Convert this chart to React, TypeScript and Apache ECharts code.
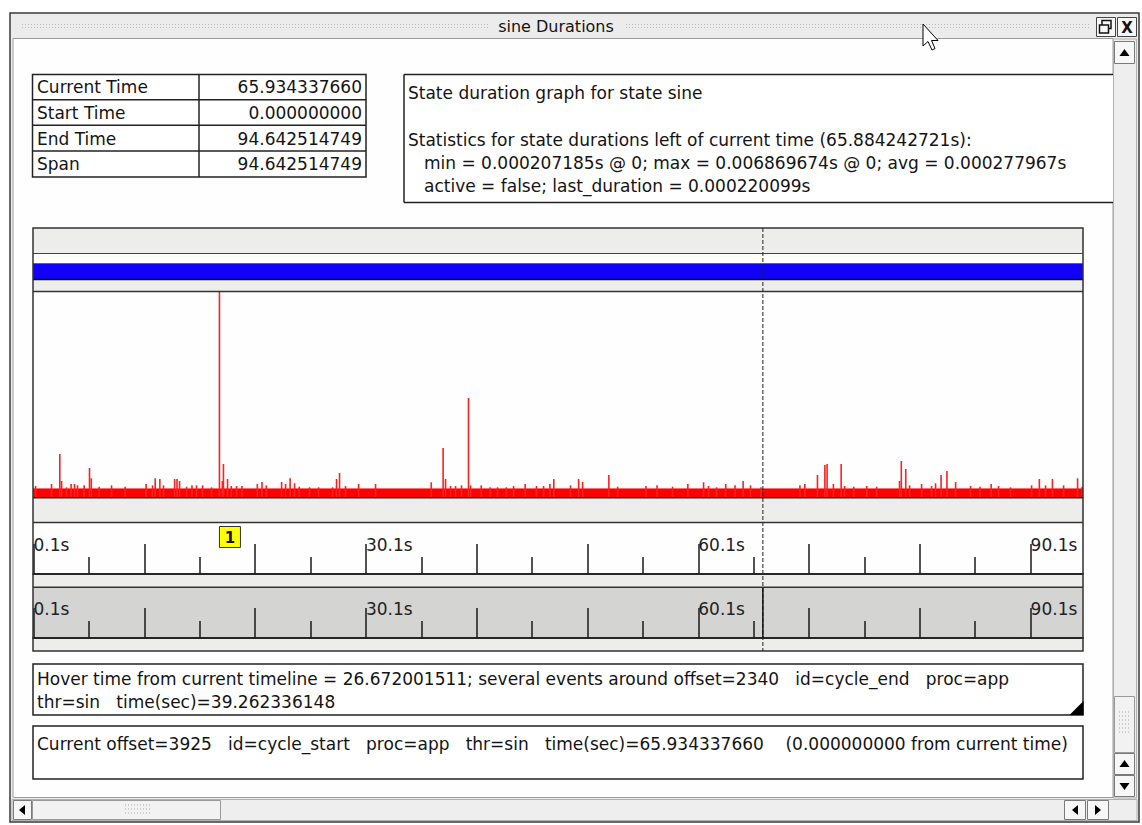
import React, { useEffect, useRef } from 'react';
import * as echarts from 'echarts';

// ---------- data ----------
const TIME_MIN = 0.05;
const TIME_MAX = 94.83;
const CURRENT_TIME = 65.93433766;
const BOOKMARK_TIME = 16.88;
const MAX_DURATION = 0.006869674;

const baselineTimes = [TIME_MIN, TIME_MAX];
const baselineDurations = [0.00028, 0.00028];

const spikeTimes = [
  0.28, 1.72, 2.47, 2.63, 3.08, 3.49, 3.8, 4.07, 4.67, 5.15, 5.31, 6.02, 7.14, 8.37,
  10.26, 10.84, 11.08, 11.5, 11.83, 12.83, 13.05, 13.28, 13.91, 14.4, 14.81, 15.36, 16.17,
  16.88, 17.14, 17.24, 17.61, 17.95, 18.42, 18.91, 20.3, 20.72, 21.11, 22.49, 22.85, 23.26,
  23.66, 24.08, 25.01, 25.83, 27.09, 27.45, 27.72, 28.26, 29.44, 30.97, 36.0, 37.07, 37.29,
  37.74, 38.19, 38.73, 39.36, 39.55, 40.51, 41.32, 41.98, 42.77, 43.43, 44.48, 45.5, 46.14,
  46.71, 47.06, 48.57, 49.3, 49.66, 52.03, 52.82, 55.38, 56.38, 57.78, 59.16, 60.58, 61.03,
  61.75, 62.58, 63.42, 64.15, 64.82, 65.76, 69.28, 69.72, 70.86, 71.53, 71.73, 72.3, 73.0,
  73.31, 74.14, 75.31, 76.2, 78.27, 78.43, 78.83, 79.18, 80.26, 81.16, 81.52, 82.02, 82.55,
  83.33, 84.68, 85.54, 86.54, 87.21, 88.29, 90.19, 90.89, 91.45, 92.07, 93.08, 94.34, 94.75,
];
const spikeDurations = [
  0.000369, 0.000436, 0.001441, 0.000536, 0.000325, 0.000436, 0.000436, 0.000392, 0.000392,
  0.000972, 0.000627, 0.000345, 0.000392, 0.000345, 0.000436, 0.000392, 0.000627, 0.000603,
  0.000392, 0.000603, 0.000603, 0.000536, 0.000345, 0.000392, 0.000392, 0.000392, 0.000325,
  0.006869674, 0.000536, 0.001106, 0.000603, 0.000369, 0.000369, 0.000369, 0.000436, 0.000503,
  0.000392, 0.000503, 0.000436, 0.000627, 0.000459, 0.000345, 0.000325, 0.000325, 0.000325,
  0.000603, 0.000804, 0.000369, 0.000436, 0.000436, 0.000493, 0.001642, 0.000603, 0.000369,
  0.000369, 0.000392, 0.003318, 0.000392, 0.000392, 0.000325, 0.000325, 0.000325, 0.000369,
  0.000436, 0.000369, 0.000369, 0.000436, 0.000603, 0.000392, 0.000603, 0.000503, 0.000737,
  0.000345, 0.000369, 0.000392, 0.000345, 0.000436, 0.000493, 0.000369, 0.000325, 0.000436,
  0.000392, 0.000536, 0.000392, 0.000325, 0.000392, 0.000436, 0.000737, 0.001072, 0.001106,
  0.000436, 0.001106, 0.000369, 0.000345, 0.000369, 0.000345, 0.000536, 0.001206, 0.000938,
  0.000392, 0.000436, 0.000369, 0.000459, 0.000737, 0.000871, 0.000503, 0.000369, 0.000345,
  0.000436, 0.000369, 0.000325, 0.000392, 0.000603, 0.000392, 0.000603, 0.000392, 0.000627,
  0.000345,
];

const majorTicks = [0.1, 10.1, 20.1, 30.1, 40.1, 50.1, 60.1, 70.1, 80.1, 90.1];
const minorTicks = [5.1, 15.1, 25.1, 35.1, 45.1, 55.1, 65.1, 75.1, 85.1];
const tickLabels = [0.1, 30.1, 60.1, 90.1];

const tableNames = ['Current Time', 'Start Time', 'End Time', 'Span'];
const tableValues = ['65.934337660', '0.000000000', '94.642514749', '94.642514749'];

const G3 = ' \u00a0 ';
const G4 = ' \u00a0\u00a0 ';
const infoTitle = 'State duration graph for state sine';
const infoStats = 'Statistics for state durations left of current time (65.884242721s):';
const infoMinMax = 'min = 0.000207185s @ 0; max = 0.006869674s @ 0; avg = 0.000277967s';
const infoActive = 'active = false; last_duration = 0.000220099s';
const hoverLine1 = `Hover time from current timeline = 26.672001511; several events around offset=2340${G3}id=cycle_end${G3}proc=app`;
const hoverLine2 = `thr=sin${G3}time(sec)=39.262336148`;
const currentLine = `Current offset=3925${G3}id=cycle_start${G3}proc=app${G3}thr=sin${G3}time(sec)=65.934337660${G4}(0.000000000 from current time)`;
const windowTitle = 'sine Durations';

// ---------- helpers ----------
const FONT = 'DejaVu Sans';
const PX0 = 33;
const PW = 1050;

const rect = (x: number, y: number, w: number, h: number, fill: string, stroke: string | null, lw: number, z: number) => ({
  type: 'rect', silent: true, z,
  shape: { x, y, width: w, height: h },
  style: { fill, stroke: stroke || 'none', lineWidth: stroke ? lw : 0 },
});
const line = (x1: number, y1: number, x2: number, y2: number, stroke: string, lw: number, z: number, dash?: number[]) => ({
  type: 'line', silent: true, z,
  shape: { x1, y1, x2, y2 },
  style: { stroke, lineWidth: lw, lineDash: dash || null },
});
const poly = (points: number[][], fill: string, z: number, stroke?: string) => ({
  type: 'polygon', silent: true, z,
  shape: { points },
  style: { fill, stroke: stroke || 'none', lineWidth: stroke ? 1 : 0 },
});
const txt = (x: number, y: number, s: string, z: number, o: any = {}) => ({
  type: 'text', silent: true, z, x, y,
  style: {
    text: s,
    fill: o.color || '#141414',
    fontSize: o.size || 17,
    fontFamily: FONT,
    fontWeight: o.weight || 'normal',
    align: o.align || 'left',
    verticalAlign: 'middle',
    textAlign: o.align || 'left',
    textVerticalAlign: 'middle',
  },
});

const timeAxis = (gridIndex: number, major: boolean) => ({
  type: 'value',
  gridIndex,
  min: TIME_MIN,
  max: TIME_MAX,
  position: 'bottom',
  z: 10,
  splitLine: { show: false },
  axisLine: { show: true, onZero: false, lineStyle: { color: '#1a1a1a', width: 1.5 } },
  axisTick: {
    show: true,
    inside: true,
    length: major ? 30 : 17,
    customValues: major ? majorTicks : minorTicks,
    lineStyle: { color: '#1a1a1a', width: 1.5 },
  },
  axisLabel: major
    ? {
        show: true,
        inside: true,
        customValues: tickLabels,
        formatter: (v: number) => `${v.toFixed(1)}s`,
        margin: 29,
        align: 'left',
        verticalAlign: 'middle',
        fontFamily: FONT,
        fontSize: 17,
        color: '#222',
        hideOverlap: false,
      }
    : { show: false },
});

export default function App() {
  const ref = useRef<HTMLDivElement>(null);

  useEffect(() => {
    document.body.style.margin = '0';
    const chart = echarts.init(ref.current!, null, { renderer: 'svg' });

    const grids = [
      { left: PX0, top: 292, width: PW, height: 205 },
      { left: PX0, top: 523, width: PW, height: 51 },
      { left: PX0, top: 523, width: PW, height: 51 },
      { left: PX0, top: 588, width: PW, height: 50 },
      { left: PX0, top: 588, width: PW, height: 50 },
    ].map((g) => ({ ...g, show: false, containLabel: false }));

    chart.setOption({
      animation: false,
      backgroundColor: '#ffffff',
      grid: grids,
      xAxis: [
        { type: 'value', gridIndex: 0, min: TIME_MIN, max: TIME_MAX, show: false },
        timeAxis(1, true),
        timeAxis(2, false),
        timeAxis(3, true),
        timeAxis(4, false),
      ],
      yAxis: [0, 1, 2, 3, 4].map((i) =>
        i === 0
          ? { type: 'value', gridIndex: 0, min: 0, max: MAX_DURATION, show: false }
          : { type: 'value', gridIndex: i, min: 0, max: 1, show: false }
      ),
      series: [
        {
          type: 'line',
          xAxisIndex: 0,
          yAxisIndex: 0,
          z: 10,
          symbol: 'none',
          silent: true,
          data: baselineTimes.map((t, i) => [t, baselineDurations[i]]),
          lineStyle: { color: '#ff0000', width: 0.5 },
          areaStyle: { color: '#ff0000', opacity: 1 },
        },
        {
          type: 'bar',
          xAxisIndex: 0,
          yAxisIndex: 0,
          z: 11,
          silent: true,
          barWidth: 1.6,
          data: spikeTimes.map((t, i) => [t, spikeDurations[i]]),
          itemStyle: { color: '#ff1f1f' },
        },
      ],
    });

    const cx = chart.convertToPixel({ xAxisIndex: 0 }, CURRENT_TIME) as number;
    const bx = chart.convertToPixel({ xAxisIndex: 0 }, BOOKMARK_TIME) as number;

    const els: any[] = [];
    // window frame + title bar
    els.push(rect(10, 13, 1129, 809, '#ececec', '#3a3a3a', 1.5, 1));
    [24.5, 27.5].forEach((y) => {
      els.push(line(22, y, 488, y, '#b9b9b9', 1, 2, [1, 2]));
      els.push(line(626, y, 1090, y, '#b9b9b9', 1, 2, [1, 2]));
    });
    els.push(txt(556, 26, windowTitle, 3, { align: 'center', size: 16 }));
    els.push(rect(1096.5, 17.5, 19, 19, '#f6f6f6', '#444', 1, 3));
    els.push(rect(1102, 20.5, 9, 8, 'none', '#111', 1.5, 4));
    els.push(rect(1099.5, 25, 9, 8, '#f6f6f6', '#111', 1.5, 5));
    els.push(rect(1117.5, 17.5, 19, 19, '#f6f6f6', '#444', 1, 3));
    els.push(txt(1127, 27.5, 'X', 4, { align: 'center', size: 15, weight: 'bold' }));

    // content area
    els.push(rect(13, 38.5, 1100, 759, '#fefefe', '#9c9c9c', 1, 1));

    // table
    els.push(rect(32.5, 74.5, 333.5, 102.5, '#ffffff', '#222', 1.5, 2));
    [99.8, 125.3, 150.9].forEach((y) => els.push(line(32.5, y, 366, y, '#222', 1.5, 3)));
    els.push(line(199, 74.5, 199, 177, '#222', 1.5, 3));
    tableNames.forEach((n, i) => {
      const y = 87.3 + i * 25.6;
      els.push(txt(37, y, n, 4));
      els.push(txt(362, y, tableValues[i], 4, { align: 'right' }));
    });

    // info box
    els.push(rect(404, 74.5, 720, 128, '#ffffff', null, 0, 2));
    els.push(line(404, 74.5, 1114, 74.5, '#222', 1.5, 3));
    els.push(line(404, 202.5, 1114, 202.5, '#222', 1.5, 3));
    els.push(line(404, 74.5, 404, 202.5, '#222', 1.5, 3));
    els.push(txt(408, 93, infoTitle, 4));
    els.push(txt(408, 139.5, infoStats, 4));
    els.push(txt(424, 162.5, infoMinMax, 4));
    els.push(txt(424, 185.5, infoActive, 4));

    // chart panel backgrounds
    els.push(rect(PX0, 228, PW, 423, '#edeeec', null, 0, 2));
    els.push(rect(PX0, 254, PW, 9, '#ffffff', null, 0, 3));
    els.push(rect(PX0, 263, PW, 16, '#1200ff', null, 0, 3));
    els.push(line(PX0, 263.5, PX0 + PW, 263.5, '#5050ff', 1, 4));
    els.push(rect(PX0, 292, PW, 205, '#fefefe', null, 0, 3));
    els.push(rect(PX0, 523, PW, 51, '#fefefe', null, 0, 3));
    els.push(rect(PX0, 588, PW, 50, '#d4d4d3', null, 0, 3));
    // panel lines
    [[253.5, '#444', 1], [279.5, '#000', 1.5], [291.5, '#333', 1.5], [497.8, '#222', 1.5], [522.5, '#333', 1.5], [587.2, '#333', 1.5]].forEach(
      ([y, c, w]: any) => els.push(line(PX0, y, PX0 + PW, y, c, w, 20))
    );
    els.push(rect(PX0, 228, PW, 423, 'none', '#333', 1.5, 21));
    // current time line
    els.push(line(cx, 228, cx, 651, '#222', 1, 22, [4, 2]));
    els.push(line(cx, 588, cx, 638, '#111', 1.5, 22));
    // bookmark marker
    els.push(rect(bx, 526.5, 21, 21, '#ffff00', '#333', 1, 23));
    els.push(txt(bx + 10.5, 537.5, '1', 24, { align: 'center', size: 15, weight: 'bold' }));

    // hover box
    els.push(rect(33, 664, 1050, 51, '#ffffff', '#222', 1.5, 20));
    els.push(poly([[1083.5, 701], [1083.5, 715], [1069.5, 715]], '#000', 21));
    els.push(txt(37, 679, hoverLine1, 22));
    els.push(txt(37, 702, hoverLine2, 22));
    // current box
    els.push(rect(33, 726, 1050, 53, '#ffffff', '#222', 1.5, 20));
    els.push(txt(37, 744, currentLine, 22));

    // vertical scrollbar
    els.push(rect(1113.5, 39, 23, 759, '#eeeeee', '#b0b0b0', 1, 30));
    els.push(rect(1114.5, 41.5, 20, 22, '#f7f7f7', '#7a7a7a', 1, 31));
    els.push(poly([[1119.5, 56], [1129.5, 56], [1124.5, 49]], '#000', 32));
    els.push(rect(1114.5, 696.5, 20, 56, '#f2f2f2', '#999', 1, 31));
    [712, 716, 720, 724, 728, 732].forEach((y) => els.push(line(1119, y, 1130, y, '#aaa', 1, 32, [1, 2])));
    els.push(rect(1114.5, 753.5, 20, 21, '#f7f7f7', '#7a7a7a', 1, 31));
    els.push(poly([[1119.5, 767], [1129.5, 767], [1124.5, 760]], '#000', 32));
    els.push(rect(1114.5, 775.5, 20, 21, '#f7f7f7', '#7a7a7a', 1, 31));
    els.push(poly([[1119.5, 783], [1129.5, 783], [1124.5, 790]], '#000', 32));

    // horizontal scrollbar
    els.push(rect(12, 799.5, 1125, 21, '#eeeeee', '#b0b0b0', 1, 30));
    els.push(rect(13.5, 800.5, 18, 19, '#f7f7f7', '#7a7a7a', 1, 31));
    els.push(poly([[25, 805], [25, 815], [19, 810]], '#000', 32));
    els.push(rect(32.5, 800.5, 188, 19, '#f2f2f2', '#999', 1, 31));
    [805, 809, 813].forEach((y) => els.push(line(125, y, 152, y, '#aaa', 1, 32, [1, 2])));
    els.push(rect(1064.5, 800.5, 21, 19, '#f7f7f7', '#7a7a7a', 1, 31));
    els.push(poly([[1078, 805], [1078, 815], [1072, 810]], '#000', 32));
    els.push(rect(1087.5, 800.5, 21, 19, '#f7f7f7', '#7a7a7a', 1, 31));
    els.push(poly([[1095, 805], [1095, 815], [1101, 810]], '#000', 32));

    // mouse cursor
    els.push({
      type: 'polygon', silent: true, z: 40,
      shape: { points: [[923, 24], [923, 46], [928, 41.5], [932, 50], [935, 48.5], [931.5, 40.5], [938, 40.5]] },
      style: { fill: '#ffffff', stroke: '#000', lineWidth: 1 },
    });

    chart.setOption({ graphic: { elements: els } });

    return () => chart.dispose();
  }, []);

  return (
    <div
      ref={ref}
      style={{ position: 'fixed', left: 0, top: 0, width: 1142, height: 825, background: '#fff' }}
    />
  );
}
